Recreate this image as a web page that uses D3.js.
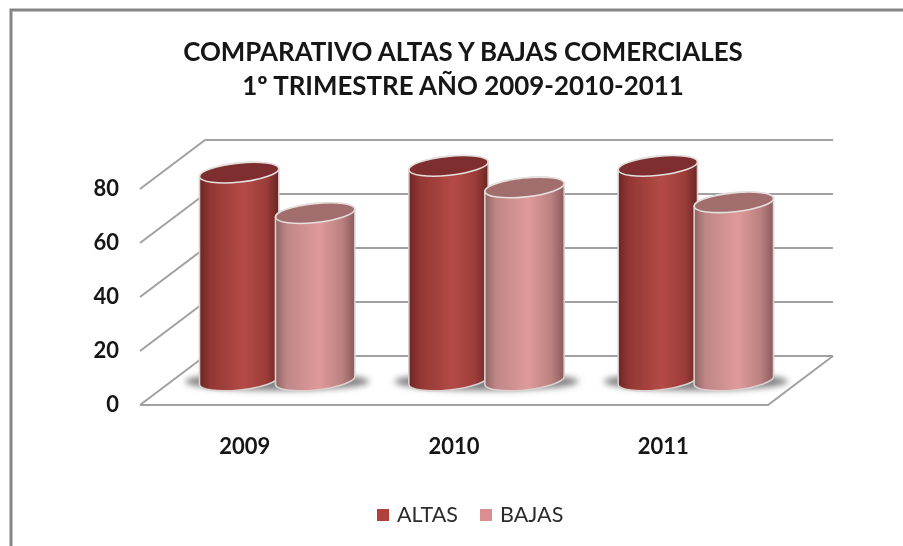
<!DOCTYPE html>
<html>
<head>
<meta charset="utf-8">
<script src="https://cdn.jsdelivr.net/npm/d3@7"></script>
<style>
  html, body { margin: 0; padding: 0; background: #fff; overflow: hidden; }
  text { font-family: Lato, "Open Sans", sans-serif; fill: #141414; }
</style>
</head>
<body>
<div id="app"></div>
<script>
const years = ['2009', '2010', '2011'];
const seriesNames = ['ALTAS', 'BAJAS'];
const altas = [77, 79.5, 79.5];
const bajas = [62, 71.5, 66];
const yTicks = [0, 20, 40, 60, 80];
const titleLines = ['COMPARATIVO ALTAS Y BAJAS COMERCIALES', '1º TRIMESTRE AÑO 2009-2010-2011'];

const w = 903, h = 546;

/////////SCALES/////////

const depthX = 65, depthY = 49;
const left = 140, right = 768, bottom = 405;

const xScale = d3.scaleBand().domain(years).range([left, right]);
const yScale = d3.scaleLinear().domain([0, 80]).range([bottom, 189]);
const seriesScale = d3.scaleBand().domain(seriesNames).range([-76, 76]);

const colors = {
  ALTAS: { cap: '#7e2f2d', stops: ['#6c2624', '#933733', '#b44a46', '#9c3d39', '#6a2624'], legend: '#b13f3c' },
  BAJAS: { cap: '#a16d6d', stops: ['#8f6363', '#bf8686', '#e09a9a', '#bb8080', '#8a5b5b'], legend: '#d98f8f' }
};

const svg = d3.select('#app')
  .append('svg')
  .attr('width', w)
  .attr('height', h)
  .style('display', 'block');

const defs = svg.append('defs');

defs.append('filter').attr('id', 'soft')
  .attr('filterUnits', 'userSpaceOnUse')
  .attr('x', 0).attr('y', 0).attr('width', w).attr('height', h)
  .append('feGaussianBlur').attr('stdDeviation', 0.55);

defs.append('filter').attr('id', 'shadowBlur')
  .attr('x', '-30%').attr('width', '160%')
  .attr('y', '-60%').attr('height', '220%')
  .append('feGaussianBlur').attr('stdDeviation', 3);

seriesNames.forEach((name) => {
  const grad = defs.append('linearGradient').attr('id', 'grad' + name);
  [0, 0.14, 0.55, 0.84, 1].forEach((o, i) => {
    grad.append('stop').attr('offset', o).attr('stop-color', colors[name].stops[i]);
  });
});

const chart = svg.append('g').attr('filter', 'url(#soft)');

/////////BORDER/////////

chart.append('path')
  .attr('d', `M${w},10 H11 V${h}`)
  .attr('fill', 'none')
  .attr('stroke', '#858585')
  .attr('stroke-width', 3);

/////////TITLE/////////

chart.selectAll('.title')
  .data(titleLines)
  .enter()
  .append('text')
  .attr('class', 'title')
  .attr('x', 463)
  .attr('y', (d, i) => 61 + i * 34)
  .attr('text-anchor', 'middle')
  .style('font-size', '25.9px')
  .style('font-weight', 700)
  .text((d) => d);

/////////GRID/////////

const gridColor = '#a0a0a0';

chart.selectAll('.back')
  .data(yTicks)
  .enter()
  .append('line')
  .attr('class', 'back')
  .attr('x1', left + depthX)
  .attr('x2', right + depthX)
  .attr('y1', (d) => yScale(d) - depthY)
  .attr('y2', (d) => yScale(d) - depthY)
  .attr('stroke', gridColor)
  .attr('stroke-width', 2);

chart.selectAll('.side')
  .data(yTicks)
  .enter()
  .append('line')
  .attr('class', 'side')
  .attr('x1', left)
  .attr('x2', left + depthX)
  .attr('y1', (d) => yScale(d))
  .attr('y2', (d) => yScale(d) - depthY)
  .attr('stroke', gridColor)
  .attr('stroke-width', 2);

chart.append('path')
  .attr('d', `M${left},${bottom} H${right} L${right + depthX},${bottom - depthY}`)
  .attr('fill', 'none')
  .attr('stroke', gridColor)
  .attr('stroke-width', 2);

/////////AXES/////////

const yAxis = d3.axisLeft(yScale).tickValues(yTicks).tickSize(0).tickPadding(0);
const xAxis = d3.axisBottom(xScale).tickSize(0).tickPadding(0);

const yG = chart.append('g').attr('transform', 'translate(119,-1)').call(yAxis);
const xG = chart.append('g').attr('transform', 'translate(0,438)').call(xAxis);

[yG, xG].forEach((g) => {
  g.select('.domain').remove();
  g.selectAll('text')
    .style('font-family', 'Lato, "Open Sans", sans-serif')
    .style('font-size', '22px')
    .style('font-weight', 700);
});

/////////CYLINDERS/////////

const baseY = bottom - depthY / 2;
const heightScale = d3.scaleLinear().domain([0, 80]).range([0, bottom - yScale(80)]);
const rx = seriesScale.bandwidth() * 0.525, ry = 9.5, tilt = -6;
const dx = rx * Math.cos(tilt * Math.PI / 180), dy = rx * Math.sin(tilt * Math.PI / 180);

const bars = [];
years.forEach((year, i) => {
  bars.push({ year: year, name: 'ALTAS', value: altas[i] });
  bars.push({ year: year, name: 'BAJAS', value: bajas[i] });
});

const centerX = (d) => xScale(d.year) + xScale.bandwidth() / 2 + depthX / 2 + seriesScale(d.name) + seriesScale.bandwidth() / 2;

// shadows first, they lie on the floor behind everything
chart.selectAll('.shadow')
  .data(years)
  .enter()
  .append('ellipse')
  .attr('class', 'shadow')
  .attr('cx', (d) => xScale(d) + xScale.bandwidth() / 2 + depthX / 2)
  .attr('cy', baseY + 1)
  .attr('rx', 92)
  .attr('ry', 9)
  .attr('fill', '#808080')
  .attr('filter', 'url(#shadowBlur)');

const bar = chart.selectAll('.bar')
  .data(bars)
  .enter()
  .append('g')
  .attr('class', 'bar');

bar.append('path')
  .attr('d', (d) => {
    const c = centerX(d), top = baseY - heightScale(d.value);
    return `M${c - dx},${top - dy} L${c - dx},${baseY - dy}` +
      ` A${rx},${ry} ${tilt} 0 0 ${c + dx},${baseY + dy}` +
      ` L${c + dx},${top + dy}` +
      ` A${rx},${ry} ${tilt} 0 0 ${c - dx},${top - dy} Z`;
  })
  .attr('fill', (d) => 'url(#grad' + d.name + ')')
  .attr('stroke', '#d9d2d0')
  .attr('stroke-width', 1.6);

bar.append('ellipse')
  .attr('cx', 0)
  .attr('cy', 0)
  .attr('rx', rx)
  .attr('ry', ry)
  .attr('transform', (d) => `translate(${centerX(d)},${baseY - heightScale(d.value)}) rotate(${tilt})`)
  .attr('fill', (d) => colors[d.name].cap)
  .attr('stroke', '#e6e0de')
  .attr('stroke-width', 1.6);

/////////LEGEND/////////

const legendX = d3.scaleOrdinal().domain(seriesNames).range([377, 480]);

const legend = chart.selectAll('.legend')
  .data(seriesNames)
  .enter()
  .append('g')
  .attr('class', 'legend')
  .attr('transform', (d) => `translate(${legendX(d)},509)`);

legend.append('rect')
  .attr('width', 12)
  .attr('height', 12)
  .attr('fill', (d) => colors[d].legend);

legend.append('text')
  .attr('x', 20)
  .attr('y', 12.5)
  .style('font-size', '21.5px')
  .style('fill', '#2c2c2c')
  .text((d) => d);
</script>
</body>
</html>
